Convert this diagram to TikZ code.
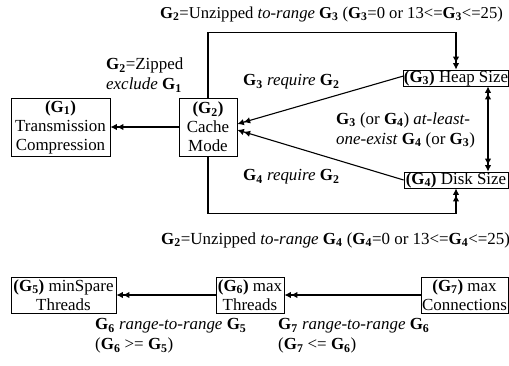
\documentclass[tikz,border=0pt]{standalone}
\usepackage{fontspec}
\setmainfont{Liberation Serif}
\usetikzlibrary{arrows.meta}
\newcommand{\Gs}[1]{\textbf{G\textsubscript{#1}}}
\begin{document}
\begin{tikzpicture}[x=1bp,y=-1bp, font=\fontsize{17}{19}\selectfont,
 box/.style={draw, line width=0.8bp, inner sep=0pt, align=center},
 conn/.style={line width=1.1bp},
 toend/.style={-{Latex[length=6.5bp,width=6.5bp]Latex[length=6.5bp,width=6.5bp]}},
 both/.style={{Latex[length=6.5bp,width=6.5bp]Latex[length=6.5bp,width=6.5bp]}-{Latex[length=6.5bp,width=6.5bp]Latex[length=6.5bp,width=6.5bp]}},
 lbl/.style={inner sep=0pt, align=left, anchor=west, font=\fontsize{17}{20}\selectfont}]
\useasboundingbox (0,0) rectangle (509,365);
% boxes
\node[box, minimum width=99bp, minimum height=58bp] (g1) at (60.5,127) {\textbf{(G\textsubscript{1})}\\Transmission\\Compression};
\node[box, minimum width=58bp, minimum height=58bp] (g2) at (208,127) {\textbf{(G\textsubscript{2})}\\Cache\\Mode};
\node[box, minimum width=104bp, minimum height=16bp] (g3) at (456,78) {\textbf{(G\textsubscript{3})} Heap Size};
\node[box, minimum width=104bp, minimum height=16bp] (g4) at (456,180) {\textbf{(G\textsubscript{4})} Disk Size};
\node[box, minimum width=105bp, minimum height=36bp] (g5) at (63.5,295) {\textbf{(G\textsubscript{5})} minSpare\\Threads};
\node[box, minimum width=68bp, minimum height=36bp] (g6) at (250,295) {\textbf{(G\textsubscript{6})} max\\Threads};
\node[box, minimum width=87bp, minimum height=36bp] (g7) at (464.5,295) {\textbf{(G\textsubscript{7})} max\\Connections};
% connectors
\draw[conn,toend] (g2.north) -- ++(0,-65) -| (g3.north);
\draw[conn,toend] (g2.south) -- ++(0,57) -| (g4.south);
\draw[conn,both] ([xshift=32bp]g3.south) -- ([xshift=32bp]g4.north);
\draw[conn,toend] (g2.west) -- (g1.east);
\draw[conn,toend] ([yshift=2bp]g3.west) -- ([yshift=3bp]g2.east);
\draw[conn,toend] (g4.west) -- ([yshift=-3bp]g2.east);
\draw[conn,toend] (g6.west) -- (g5.east);
\draw[conn,toend] (g7.west) -- (g6.east);
% labels
\node[lbl, font=\fontsize{16.7}{20}\selectfont] (t1) at (160,14) {\Gs{2}=Unzipped \textit{to-range} \Gs{3} (\Gs{3}=0 or 13<=\Gs{3}<=25)};
\node[lbl] (t2) at (106,75) {\Gs{2}=Zipped\\\textit{exclude} \Gs{1}};
\node[lbl] (t3) at (243,82) {\Gs{3} \textit{require} \Gs{2}};
\node[lbl] (t4) at (243,177) {\Gs{4} \textit{require} \Gs{2}};
\node[lbl] (t5) at (336,130) {\Gs{3} (or \Gs{4}) \textit{at-least-}\\\textit{one-exist} \Gs{4} (or \Gs{3})};
\node[lbl] (t6) at (161,240) {\Gs{2}=Unzipped \textit{to-range} \Gs{4} (\Gs{4}=0 or 13<=\Gs{4}<=25)};
\node[lbl] (t7) at (95,336) {\Gs{6} \textit{range-to-range} \Gs{5}\\(\Gs{6} >= \Gs{5})};
\node[lbl] (t8) at (278,336) {\Gs{7} \textit{range-to-range} \Gs{6}\\(\Gs{7} <= \Gs{6})};
\end{tikzpicture}
\end{document}
